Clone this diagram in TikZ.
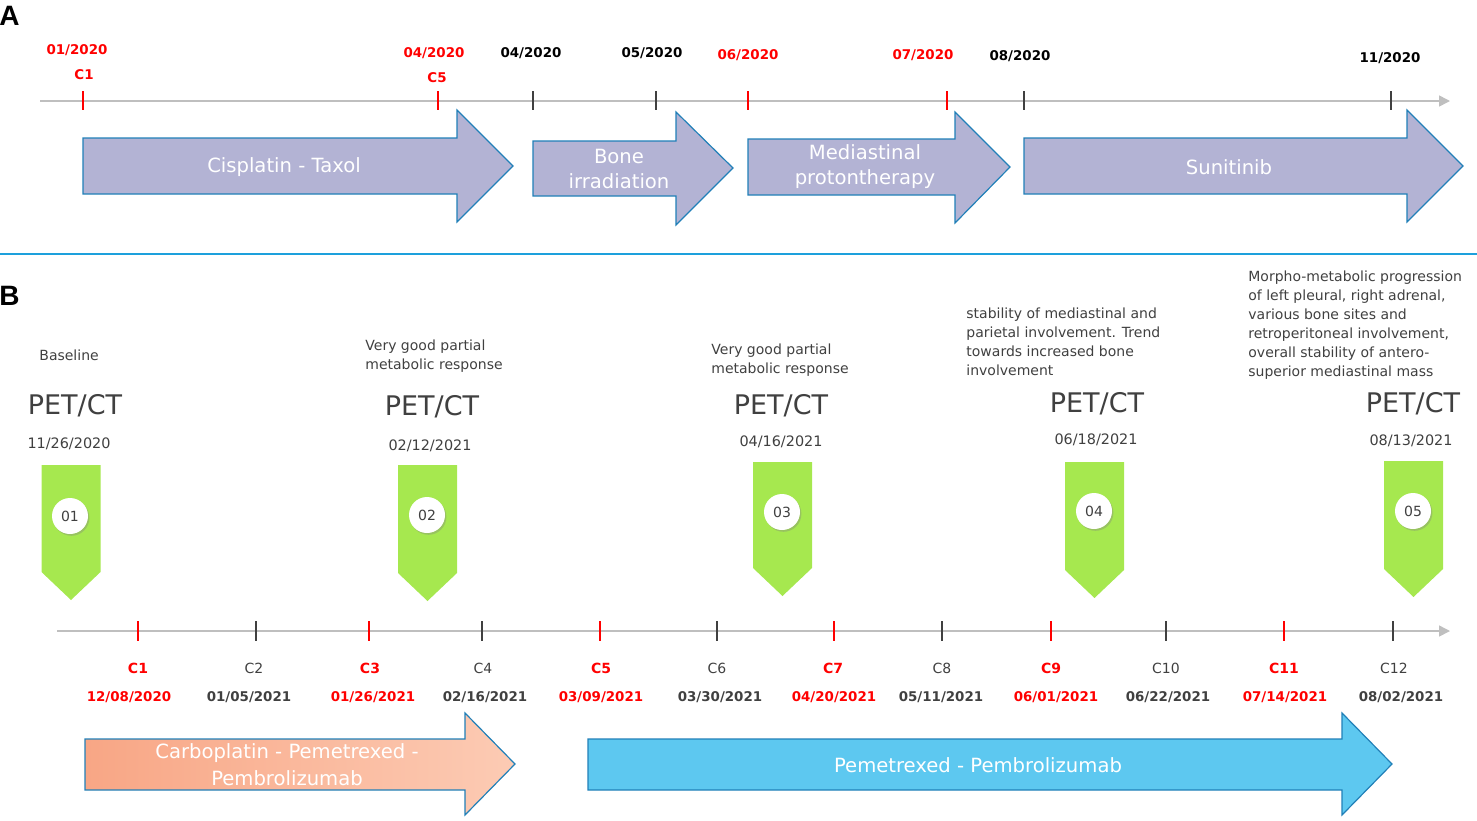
\documentclass[tikz,border=0pt]{standalone}
\usepackage{fontspec}
\setmainfont{DejaVu Sans}
\newfontfamily\panelfont{Liberation Sans}
\usetikzlibrary{arrows.meta,shadows}
\definecolor{tlred}{RGB}{255,0,0}
\definecolor{tldark}{RGB}{64,64,64}
\definecolor{axisgray}{RGB}{191,191,191}
\definecolor{lavender}{RGB}{179,179,212}
\definecolor{arrowedge}{RGB}{33,128,184}
\definecolor{markgreen}{RGB}{166,232,79}
\definecolor{skyblue}{RGB}{93,200,240}
\definecolor{salmonA}{RGB}{248,166,133}
\definecolor{salmonB}{RGB}{252,203,180}
\definecolor{sepblue}{RGB}{29,160,220}

\begin{document}
\begin{tikzpicture}[x=0.5pt,y=-0.5pt,
	timeaxis/.style={draw=axisgray,line width=0.75pt,-{Triangle[length=5.5pt,width=5.5pt]}},
	tickmark/.style={line width=0.9pt},
	datered/.style={text=tlred,font=\bfseries\fontsize{6.7}{8}\selectfont,inner sep=0pt},
	dateblk/.style={text=black,font=\bfseries\fontsize{6.7}{8}\selectfont,inner sep=0pt},
	dategray/.style={text=tldark,font=\bfseries\fontsize{6.7}{8}\selectfont,inner sep=0pt},
	cycgray/.style={text=tldark,font=\fontsize{7}{8}\selectfont,inner sep=0pt},
	treatA/.style={draw=arrowedge,line width=0.6pt,fill=lavender},
	arrowtxt/.style={text=white,font=\fontsize{9.8}{12.5}\selectfont,align=center,inner sep=0pt},
	pettxt/.style={text=tldark,font=\fontsize{13.5}{15}\selectfont,inner sep=0pt},
	petdate/.style={text=tldark,font=\fontsize{7.2}{9}\selectfont,inner sep=0pt},
	desc/.style={text=tldark,font=\fontsize{7}{9.5}\selectfont,align=left,anchor=north west,inner sep=0pt},
	numcircle/.style={circle,fill=white,minimum size=18pt,inner sep=0pt,text=tldark,
		font=\fontsize{7}{8}\selectfont,
		drop shadow={shadow xshift=0.7pt,shadow yshift=-0.9pt,opacity=0.35}},
	panel/.style={font=\panelfont\bfseries\fontsize{14}{16}\selectfont,anchor=base west,inner sep=0pt}
	]
	
	\useasboundingbox (0,0) rectangle (1477,820);
	
	%%% Panel A
	\node[panel] (pa) at (-1,25) {A};
	\draw[timeaxis] (40,101) -- (1450,101);
	\foreach \x/\c in {83/tlred,438/tlred,533/tldark,656/tldark,748/tlred,947/tlred,1024/tldark,1391/tldark}
		\draw[tickmark,\c] (\x,91) -- (\x,110);
	
	\node[datered] (ja) at (77,50) {01/2020};
	\node[datered] (ca) at (84,75) {C1};
	\node[datered] (jb) at (434,53) {04/2020};
	\node[datered] (cb) at (437,78) {C5};
	\node[dateblk] (jc) at (531,53) {04/2020};
	\node[dateblk] (jd) at (652,53) {05/2020};
	\node[datered] (je) at (748,55) {06/2020};
	\node[datered] (jf) at (923,55) {07/2020};
	\node[dateblk] (jg) at (1020,56) {08/2020};
	\node[dateblk] (jh) at (1390,58) {11/2020};
	
	% Behandlungspfeile
	\draw[treatA] (83,138) -- (457,138) -- (457,110) -- (513,166) -- (457,222) -- (457,194) -- (83,194) -- cycle;
	\draw[treatA] (533,141) -- (676,141) -- (676,112) -- (733,168) -- (676,225) -- (676,196) -- (533,196) -- cycle;
	\draw[treatA] (748,139) -- (955,139) -- (955,112) -- (1010,167) -- (955,223) -- (955,195) -- (748,195) -- cycle;
	\draw[treatA] (1024,138) -- (1407,138) -- (1407,110) -- (1463,166) -- (1407,222) -- (1407,194) -- (1024,194) -- cycle;
	\node[arrowtxt] (cis) at (284,167) {Cisplatin - Taxol};
	\node[arrowtxt] (bone) at (619,169) {Bone\\irradiation};
	\node[arrowtxt] (med) at (865,167) {Mediastinal\\protontherapy};
	\node[arrowtxt] (sun) at (1229,167) {Sunitinib};
	
	% Trennlinie
	\draw[sepblue,line width=1pt] (0,254) -- (1477,254);
	
	%%% Panel B
	\node[panel] (pb) at (-1,305) {B};
	\draw[timeaxis] (57,631) -- (1450,631);
	
	%Zyklen rot
	\foreach \n/\x/\lx/\dx/\d in {1/138/138/129/{12/08/2020},3/369/370/373/{01/26/2021},5/600/601/601/{03/09/2021},
		7/834/833/834/{04/20/2021},9/1051/1051/1056/{06/01/2021},11/1284/1284/1285/{07/14/2021}}{
		\draw[tickmark,tlred] (\x,621) -- (\x,641);
		\node[datered,font=\bfseries\fontsize{7}{8}\selectfont] (c\n) at (\lx,668) {C\n};
		\node[datered] (d\n) at (\dx,697) {\d};
	}
	%Zyklen grau
	\foreach \n/\x/\lx/\dx/\d in {2/256/254/249/{01/05/2021},4/482/483/485/{02/16/2021},6/717/717/720/{03/30/2021},
		8/942/942/941/{05/11/2021},10/1166/1166/1168/{06/22/2021},12/1393/1394/1401/{08/02/2021}}{
		\draw[tickmark,tldark] (\x,621) -- (\x,641);
		\node[cycgray] (c\n) at (\lx,668) {C\n};
		\node[dategray] (d\n) at (\dx,697) {\d};
	}
	
	% PET/CT Marker
	\foreach \i/\px/\py/\dx/\dy/\d/\mx/\mt/\mtip/\cx/\cy in {1/75/406/69/444/{11/26/2020}/71/465/600/70/516,
		2/432/407/430/446/{02/12/2021}/427.5/465/601/427/515,
		3/781/406/781/442/{04/16/2021}/782.5/462/596/782/512,
		4/1097/404/1096/440/{06/18/2021}/1094.5/462/598/1094/511,
		5/1413/404/1411/441/{08/13/2021}/1413.5/461/597/1413/511}{
		\fill[markgreen] ({\mx-29.5},\mt) -- ({\mx+29.5},\mt) -- ({\mx+29.5},\mtip-28)
			-- (\mx,\mtip) -- ({\mx-29.5},\mtip-28) -- cycle;
		\node[numcircle] (n\i) at (\cx,\cy) {0\i};
		\node[pettxt] (pet\i) at (\px,\py) {PET/CT};
		\node[petdate] (pd\i) at (\dx,\dy) {\d};
	}
	
	\node[desc] (r1) at (39,349) {Baseline};
	\node[desc] (r2) at (365,339) {Very good partial\\metabolic response};
	\node[desc] (r3) at (711,343) {Very good partial\\metabolic response};
	\node[desc] (r4) at (966,307) {stability of mediastinal and\\parietal involvement. Trend\\towards increased bone\\involvement};
	\node[desc] (r5) at (1248,270) {Morpho-metabolic progression\\of left pleural, right adrenal,\\various bone sites and\\retroperitoneal involvement,\\overall stability of antero-\\superior mediastinal mass};
	
	% Therapiepfeile unten
	\path[draw=arrowedge,line width=0.6pt,left color=salmonA,right color=salmonB]
		(85,739) -- (465,739) -- (465,713) -- (515,764) -- (465,815) -- (465,790) -- (85,790) -- cycle;
	\draw[draw=arrowedge,line width=0.6pt,fill=skyblue]
		(588,739) -- (1342,739) -- (1342,713) -- (1392,764) -- (1342,815) -- (1342,790) -- (588,790) -- cycle;
	\node[arrowtxt,font=\fontsize{9.8}{13.5}\selectfont] (carbo) at (287,765) {Carboplatin - Pemetrexed -\\Pembrolizumab};
	\node[arrowtxt] (peme) at (978,765) {Pemetrexed - Pembrolizumab};
	
\end{tikzpicture}
\end{document}
